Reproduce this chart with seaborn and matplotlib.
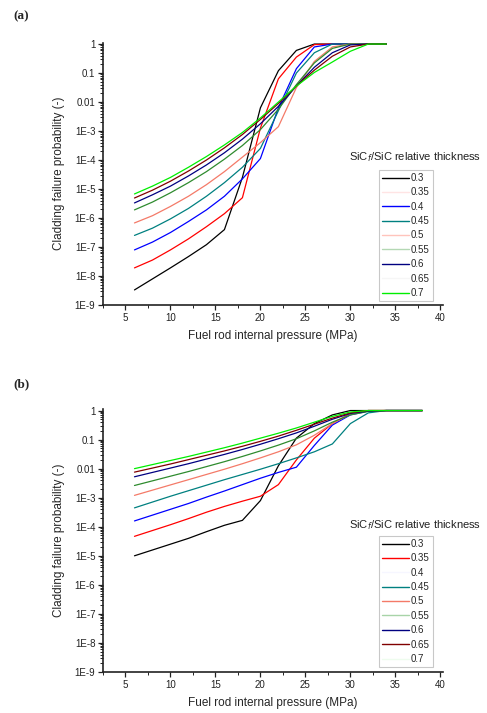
import numpy as np
import pandas as pd
import matplotlib
matplotlib.use("Agg")
import matplotlib.pyplot as plt
from matplotlib.lines import Line2D
from matplotlib.ticker import FixedLocator, FuncFormatter, MultipleLocator, LogLocator
import seaborn as sns

# ---------------- data (log10 of failure probability) ----------------
thickness = ["0.3", "0.35", "0.4", "0.45", "0.5", "0.55", "0.6", "0.65", "0.7"]

pressure_a = [6, 8, 10, 12, 14, 16, 18, 20, 22, 24, 26, 28, 30, 32, 34]
log_a_03 = [-8.48, -8.10, -7.72, -7.33, -6.92, -6.40, -4.60, -2.20, -0.92, -0.22, 0.0, 0.0, 0.0, 0.0, 0.0]
log_a_035 = [-7.72, -7.45, -7.10, -6.72, -6.30, -5.85, -5.30, -2.90, -1.20, -0.45, -0.02, 0.0, 0.0, 0.0, 0.0]
log_a_04 = [-7.10, -6.83, -6.50, -6.12, -5.72, -5.25, -4.65, -3.95, -2.20, -0.85, -0.10, 0.0, 0.0, 0.0, 0.0]
log_a_045 = [-6.60, -6.35, -6.03, -5.67, -5.25, -4.78, -4.25, -3.60, -2.30, -1.00, -0.30, 0.0, 0.0, 0.0, 0.0]
log_a_05 = [-6.17, -5.92, -5.60, -5.25, -4.85, -4.40, -3.90, -3.40, -2.85, -1.50, -0.60, -0.10, 0.0, 0.0, 0.0]
log_a_055 = [-5.72, -5.45, -5.13, -4.78, -4.40, -3.97, -3.50, -2.95, -2.25, -1.40, -0.65, -0.15, 0.0, 0.0, 0.0]
log_a_06 = [-5.48, -5.20, -4.90, -4.55, -4.17, -3.75, -3.28, -2.75, -2.15, -1.45, -0.80, -0.30, -0.03, 0.0, 0.0]
log_a_065 = [-5.31, -5.04, -4.73, -4.38, -4.00, -3.58, -3.12, -2.60, -2.05, -1.45, -0.90, -0.42, -0.10, 0.0, 0.0]
log_a_07 = [-5.17, -4.90, -4.60, -4.25, -3.88, -3.48, -3.05, -2.55, -2.00, -1.45, -0.98, -0.62, -0.25, 0.0, 0.0]

pressure_b = [6, 8, 10, 12, 14, 16, 18, 20, 22, 24, 26, 28, 30, 32, 34, 36, 38]
log_b_03 = [-5.00, -4.80, -4.60, -4.40, -4.17, -3.95, -3.78, -3.10, -1.90, -0.95, -0.45, -0.15, 0.0, 0.0, 0.0, 0.0, 0.0]
log_b_035 = [-4.33, -4.13, -3.93, -3.72, -3.50, -3.30, -3.12, -2.95, -2.55, -1.70, -0.95, -0.45, -0.10, 0.0, 0.0, 0.0, 0.0]
log_b_04 = [-3.80, -3.60, -3.40, -3.20, -2.98, -2.77, -2.55, -2.33, -2.13, -1.95, -1.20, -0.50, -0.15, -0.02, 0.0, 0.0, 0.0]
log_b_045 = [-3.35, -3.15, -2.95, -2.76, -2.57, -2.38, -2.20, -2.02, -1.83, -1.63, -1.42, -1.15, -0.45, -0.08, 0.0, 0.0, 0.0]
log_b_05 = [-2.92, -2.74, -2.56, -2.38, -2.20, -2.02, -1.83, -1.63, -1.42, -1.18, -0.85, -0.45, -0.12, -0.01, 0.0, 0.0, 0.0]
log_b_055 = [-2.58, -2.42, -2.26, -2.10, -1.93, -1.76, -1.58, -1.39, -1.19, -0.97, -0.70, -0.40, -0.15, -0.03, 0.0, 0.0, 0.0]
log_b_06 = [-2.28, -2.13, -1.98, -1.83, -1.67, -1.51, -1.34, -1.16, -0.97, -0.77, -0.54, -0.30, -0.10, -0.02, 0.0, 0.0, 0.0]
log_b_065 = [-2.12, -1.98, -1.84, -1.69, -1.54, -1.39, -1.23, -1.06, -0.88, -0.68, -0.47, -0.26, -0.08, 0.0, 0.0, 0.0, 0.0]
log_b_07 = [-2.00, -1.86, -1.72, -1.58, -1.43, -1.28, -1.12, -0.95, -0.78, -0.60, -0.40, -0.20, -0.05, 0.0, 0.0, 0.0, 0.0]

series_a = [log_a_03, log_a_035, log_a_04, log_a_045, log_a_05, log_a_055, log_a_06, log_a_065, log_a_07]
series_b = [log_b_03, log_b_035, log_b_04, log_b_045, log_b_05, log_b_055, log_b_06, log_b_065, log_b_07]

line_colors = ["#000000", "#ff0000", "#0000ff", "#008080", "#f47a68",
               "#2e8b2e", "#000080", "#800000", "#00ee00"]
legend_colors_a = ["#000000", "#ffe4e4", "#0000ff", "#008080", "#ffc4bc",
                   "#b4d8b4", "#000080", "#f6f6f6", "#00ee00"]
legend_colors_b = ["#000000", "#ff0000", "#f6f6ff", "#008080", "#f47a68",
                   "#a8d4a8", "#000080", "#800000", "#eefcee"]

ytick_vals = [1, 0.1, 0.01, 1e-3, 1e-4, 1e-5, 1e-6, 1e-7, 1e-8, 1e-9]
ytick_labels = ["1", "0.1", "0.01", "1E-3", "1E-4", "1E-5", "1E-6", "1E-7", "1E-8", "1E-9"]

# ---------------- plotting ----------------
sns.set_style("ticks")
plt.rcParams["font.family"] = ["Liberation Sans", "DejaVu Sans"]

fig = plt.figure(figsize=(4.87, 7.13), dpi=100)
ax_a = fig.add_axes([103 / 487, 1 - 305 / 713, 340 / 487, 262.5 / 713])
ax_b = fig.add_axes([103 / 487, 1 - 672 / 713, 340 / 487, 263 / 713])


def make_df(pressure, series):
    rows = []
    for lab, vals in zip(thickness, series):
        for p, v in zip(pressure, vals):
            rows.append({"pressure": p, "prob": 10.0 ** v, "thk": lab})
    return pd.DataFrame(rows)


def fmt(v, pos):
    for tv, tl in zip(ytick_vals, ytick_labels):
        if abs(np.log10(v) - np.log10(tv)) < 1e-6:
            return tl
    return ""


for ax, pressure, series, lcols, ty, ly in [
    (ax_a, pressure_a, series_a, legend_colors_a, 157, 0.514),
    (ax_b, pressure_b, series_b, legend_colors_b, 525, 0.517),
]:
    df = make_df(pressure, series)
    sns.lineplot(data=df, x="pressure", y="prob", hue="thk", hue_order=thickness,
                 palette=line_colors, linewidth=0.9, ax=ax, legend=False,
                 estimator=None, sort=False)
    ax.set_yscale("log")
    ax.set_ylim(1e-9, 1.13)
    ax.set_xlim(2.5, 40.3)
    ax.yaxis.set_major_locator(FixedLocator(ytick_vals))
    ax.yaxis.set_major_formatter(FuncFormatter(fmt))
    ax.yaxis.set_minor_locator(LogLocator(base=10, subs=np.arange(2, 10), numticks=20))
    ax.xaxis.set_major_locator(MultipleLocator(5))
    ax.xaxis.set_minor_locator(MultipleLocator(2.5))
    ax.set_xticks([5, 10, 15, 20, 25, 30, 35, 40])
    ax.tick_params(axis="both", which="major", direction="out", length=3.5,
                   width=0.9, labelsize=7, colors="#222222", pad=2)
    ax.tick_params(axis="both", which="minor", direction="out", length=2,
                   width=0.7, colors="#222222")
    for s in ["top", "right"]:
        ax.spines[s].set_visible(False)
    for s in ["left", "bottom"]:
        ax.spines[s].set_linewidth(1.2)
        ax.spines[s].set_color("#222222")
    ax.set_xlabel("Fuel rod internal pressure (MPa)", fontsize=8.5, labelpad=5)
    ax.set_ylabel("Cladding failure probability (-)", fontsize=8.5, labelpad=7)

    handles = [Line2D([0], [0], color=c, lw=1.0) for c in lcols]
    leg = ax.legend(handles, thickness, loc="upper left",
                    bbox_to_anchor=((379 - 103) / 340, ly),
                    fontsize=7, frameon=True, fancybox=False, handlelength=2.8,
                    handletextpad=0.2, labelspacing=0.45, borderpad=0.3,
                    borderaxespad=0)
    leg.get_frame().set_edgecolor("#bbbbbb")
    leg.get_frame().set_linewidth(0.8)
    fig.text(415 / 487, 1 - ty / 713, "SiC$_f$/SiC relative thickness",
             ha="center", va="center", fontsize=8, color="#222222")

fig.text(13 / 487, 1 - 16 / 713, "(a)", fontsize=9.5, fontweight="bold",
         family=["Liberation Serif", "DejaVu Serif"], va="center")
fig.text(13 / 487, 1 - 384 / 713, "(b)", fontsize=9.5, fontweight="bold",
         family=["Liberation Serif", "DejaVu Serif"], va="center")

fig.savefig("out.png", dpi=100)
